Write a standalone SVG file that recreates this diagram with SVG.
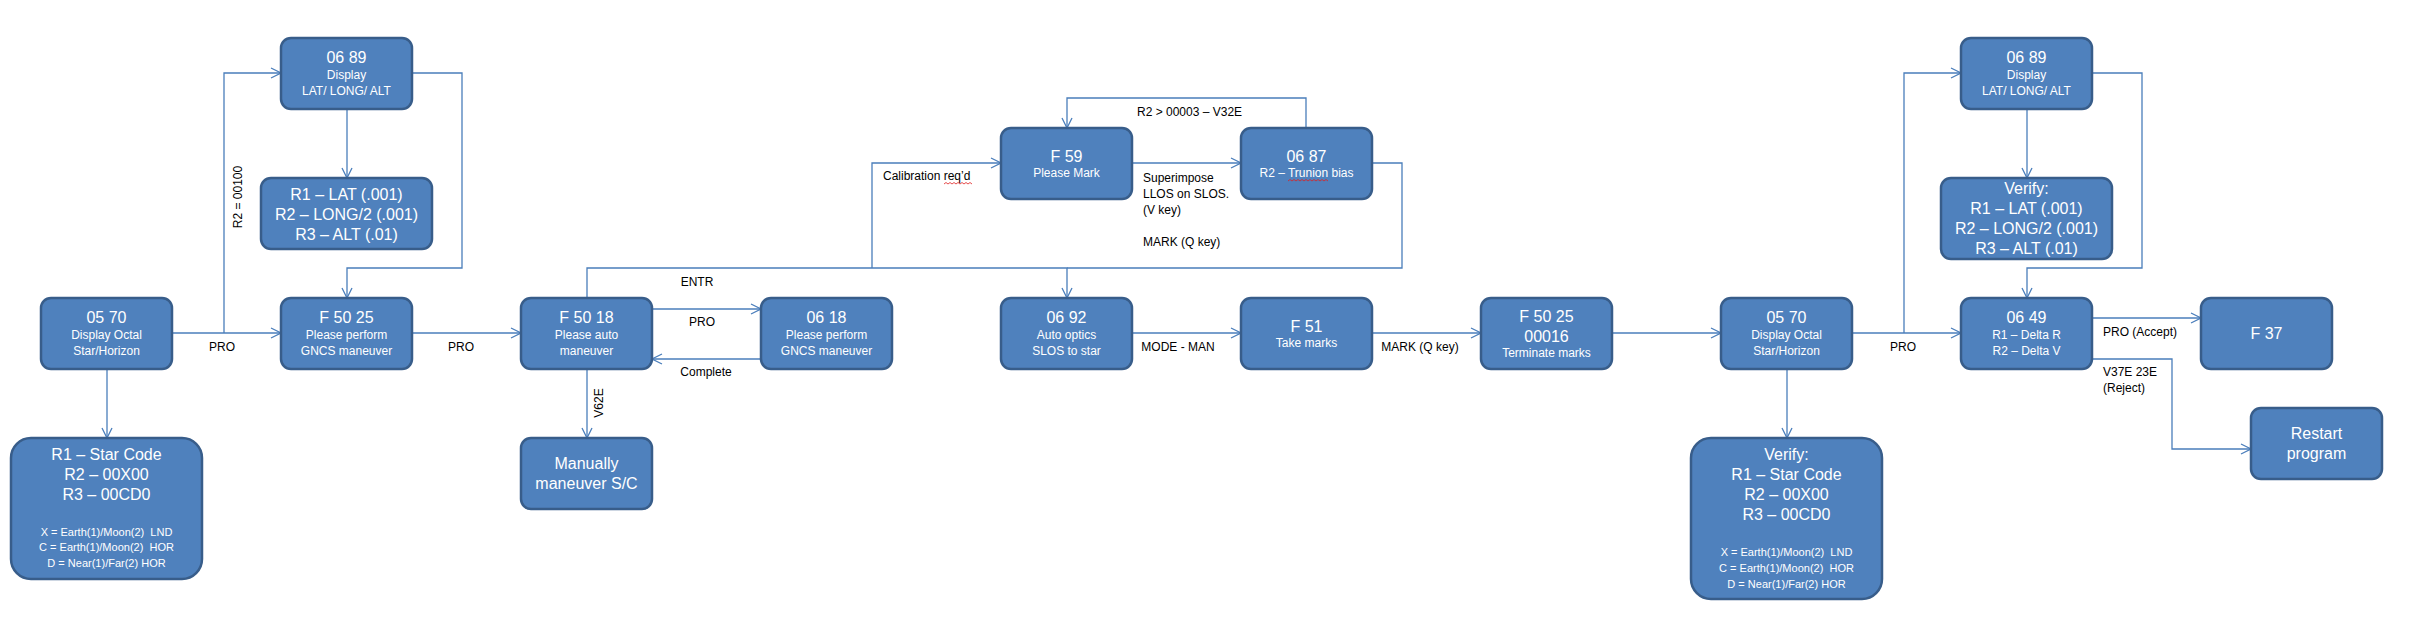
<svg xmlns="http://www.w3.org/2000/svg" width="2436" height="640" viewBox="0 0 2436 640">
<defs>
<style>
.box{fill:#4F81BD;stroke:#385D8A;stroke-width:2.5}
.t{font-family:"Liberation Sans",Arial,sans-serif;fill:#fff;text-anchor:middle}
.h{font-size:16px}
.s{font-size:12px}
.xs{font-size:11px}
.lbl{font-family:"Liberation Sans",Arial,sans-serif;font-size:12px;fill:#000}
.c{fill:none;stroke:#4A7EBB;stroke-width:1.3}
.a{marker-end:url(#arr)}
.sp{fill:none;stroke:#E02020;stroke-width:0.8}
</style>
<marker id="arr" markerUnits="userSpaceOnUse" viewBox="0 0 12 12" refX="11" refY="6" markerWidth="12" markerHeight="12" orient="auto">
<path d="M1,1 L11,6 L1,11" fill="none" stroke="#4A7EBB" stroke-width="1.3"/>
</marker>
</defs>
<rect x="0" y="0" width="2436" height="640" fill="#fff"/>

<g id="connectors">
<path class="c a" d="M172,333 H281"/>
<path class="c a" d="M224,333 V73 H281"/>
<path class="c a" d="M347,109 V178"/>
<path class="c a" d="M412,73 H462 V268 H347 V298"/>
<path class="c a" d="M107,369 V438"/>
<path class="c a" d="M412,333 H521"/>
<path class="c a" d="M652,309 H761"/>
<path class="c a" d="M761,359 H652"/>
<path class="c a" d="M587,369 V438"/>
<path class="c a" d="M587,298 V268 H1067 V298"/>
<path class="c a" d="M872,268 V163 H1001"/>
<path class="c" d="M1372,163 H1402 V268 H1067"/>
<path class="c a" d="M1132,163 H1241"/>
<path class="c a" d="M1306,128 V98 H1067 V128"/>
<path class="c a" d="M1132,333 H1241"/>
<path class="c a" d="M1372,333 H1481"/>
<path class="c a" d="M1612,333 H1721"/>
<path class="c a" d="M1787,369 V438"/>
<path class="c a" d="M1852,333 H1961"/>
<path class="c a" d="M1904,333 V73 H1961"/>
<path class="c a" d="M2027,109 V178"/>
<path class="c a" d="M2092,73 H2142 V268 H2027 V298"/>
<path class="c a" d="M2092,318 H2201"/>
<path class="c a" d="M2092,359 H2172 V449 H2251"/>

<text class="lbl" x="222" y="351" text-anchor="middle">PRO</text>
<text class="lbl" transform="translate(242,197) rotate(-90)" text-anchor="middle">R2 = 00100</text>
<text class="lbl" x="461" y="351" text-anchor="middle">PRO</text>
<text class="lbl" x="702" y="326" text-anchor="middle">PRO</text>
<text class="lbl" x="706" y="376" text-anchor="middle">Complete</text>
<text class="lbl" transform="translate(603,403) rotate(-90)" text-anchor="middle">V62E</text>
<text class="lbl" x="697" y="286" text-anchor="middle">ENTR</text>
<text class="lbl" x="883" y="180">Calibration req’d</text>
<path class="sp" d="M944,184 l2,-1.5 l2,1.5 l2,-1.5 l2,1.5 l2,-1.5 l2,1.5 l2,-1.5 l2,1.5 l2,-1.5 l2,1.5 l2,-1.5 l2,1.5 l2,-1.5 l2,1.5"/>
<text class="lbl" x="1137" y="116">R2 &gt; 00003 – V32E</text>
<text class="lbl" x="1143" y="182">Superimpose</text>
<text class="lbl" x="1143" y="198">LLOS on SLOS.</text>
<text class="lbl" x="1143" y="214">(V key)</text>
<text class="lbl" x="1143" y="246">MARK (Q key)</text>
<text class="lbl" x="1178" y="351" text-anchor="middle">MODE - MAN</text>
<text class="lbl" x="1420" y="351" text-anchor="middle">MARK (Q key)</text>
<text class="lbl" x="1903" y="351" text-anchor="middle">PRO</text>
<text class="lbl" x="2103" y="336">PRO (Accept)</text>
<text class="lbl" x="2103" y="376">V37E 23E</text>
<text class="lbl" x="2103" y="392">(Reject)</text>
</g>

<g id="n0570a">
<rect class="box" x="41" y="298" width="131" height="71" rx="10"/>
<text class="t h" x="106.5" y="323">05 70</text>
<text class="t s" x="106.5" y="339">Display Octal</text>
<text class="t s" x="106.5" y="355">Star/Horizon</text>
</g>
<g id="nStarA">
<rect class="box" x="11" y="438" width="191" height="141" rx="20"/>
<text class="t h" x="106.5" y="460">R1 – Star Code</text>
<text class="t h" x="106.5" y="480">R2 – 00X00</text>
<text class="t h" x="106.5" y="500">R3 – 00CD0</text>
<text class="t xs" x="106.5" y="536" xml:space="preserve">X = Earth(1)/Moon(2)  LND</text>
<text class="t xs" x="106.5" y="551" xml:space="preserve">C = Earth(1)/Moon(2)  HOR</text>
<text class="t xs" x="106.5" y="567">D = Near(1)/Far(2) HOR</text>
</g>
<g id="n0689a">
<rect class="box" x="281" y="38" width="131" height="71" rx="10"/>
<text class="t h" x="346.5" y="63">06 89</text>
<text class="t s" x="346.5" y="79">Display</text>
<text class="t s" x="346.5" y="95">LAT/ LONG/ ALT</text>
</g>
<g id="nLatA">
<rect class="box" x="261" y="178" width="171" height="71" rx="10"/>
<text class="t h" x="346.5" y="200">R1 – LAT (.001)</text>
<text class="t h" x="346.5" y="220">R2 – LONG/2 (.001)</text>
<text class="t h" x="346.5" y="240">R3 – ALT (.01)</text>
</g>
<g id="nF5025a">
<rect class="box" x="281" y="298" width="131" height="71" rx="10"/>
<text class="t h" x="346.5" y="323">F 50 25</text>
<text class="t s" x="346.5" y="339">Please perform</text>
<text class="t s" x="346.5" y="355">GNCS maneuver</text>
</g>
<g id="nF5018">
<rect class="box" x="521" y="298" width="131" height="71" rx="10"/>
<text class="t h" x="586.5" y="323">F 50 18</text>
<text class="t s" x="586.5" y="339">Please auto</text>
<text class="t s" x="586.5" y="355">maneuver</text>
</g>
<g id="n0618">
<rect class="box" x="761" y="298" width="131" height="71" rx="10"/>
<text class="t h" x="826.5" y="323">06 18</text>
<text class="t s" x="826.5" y="339">Please perform</text>
<text class="t s" x="826.5" y="355">GNCS maneuver</text>
</g>
<g id="nManual">
<rect class="box" x="521" y="438" width="131" height="71" rx="10"/>
<text class="t h" x="586.5" y="469">Manually</text>
<text class="t h" x="586.5" y="489">maneuver S/C</text>
</g>
<g id="nF59">
<rect class="box" x="1001" y="128" width="131" height="71" rx="10"/>
<text class="t h" x="1066.5" y="162">F 59</text>
<text class="t s" x="1066.5" y="177">Please Mark</text>
</g>
<g id="n0687">
<rect class="box" x="1241" y="128" width="131" height="71" rx="10"/>
<text class="t h" x="1306.5" y="162">06 87</text>
<text class="t s" x="1306.5" y="177">R2 – Trunion bias</text>
<path class="sp" d="M1288,181 l2,-1.5 l2,1.5 l2,-1.5 l2,1.5 l2,-1.5 l2,1.5 l2,-1.5 l2,1.5 l2,-1.5 l2,1.5 l2,-1.5 l2,1.5 l2,-1.5 l2,1.5 l2,-1.5 l2,1.5 l2,-1.5 l2,1.5 l2,-1.5 l2,1.5"/>
</g>
<g id="n0692">
<rect class="box" x="1001" y="298" width="131" height="71" rx="10"/>
<text class="t h" x="1066.5" y="323">06 92</text>
<text class="t s" x="1066.5" y="339">Auto optics</text>
<text class="t s" x="1066.5" y="355">SLOS to star</text>
</g>
<g id="nF51">
<rect class="box" x="1241" y="298" width="131" height="71" rx="10"/>
<text class="t h" x="1306.5" y="332">F 51</text>
<text class="t s" x="1306.5" y="347">Take marks</text>
</g>
<g id="nF5025b">
<rect class="box" x="1481" y="298" width="131" height="71" rx="10"/>
<text class="t h" x="1546.5" y="322">F 50 25</text>
<text class="t h" x="1546.5" y="342">00016</text>
<text class="t s" x="1546.5" y="357">Terminate marks</text>
</g>
<g id="n0570b">
<rect class="box" x="1721" y="298" width="131" height="71" rx="10"/>
<text class="t h" x="1786.5" y="323">05 70</text>
<text class="t s" x="1786.5" y="339">Display Octal</text>
<text class="t s" x="1786.5" y="355">Star/Horizon</text>
</g>
<g id="nStarB">
<rect class="box" x="1691" y="438" width="191" height="161" rx="20"/>
<text class="t h" x="1786.5" y="460">Verify:</text>
<text class="t h" x="1786.5" y="480">R1 – Star Code</text>
<text class="t h" x="1786.5" y="500">R2 – 00X00</text>
<text class="t h" x="1786.5" y="520">R3 – 00CD0</text>
<text class="t xs" x="1786.5" y="556" xml:space="preserve">X = Earth(1)/Moon(2)  LND</text>
<text class="t xs" x="1786.5" y="572" xml:space="preserve">C = Earth(1)/Moon(2)  HOR</text>
<text class="t xs" x="1786.5" y="588">D = Near(1)/Far(2) HOR</text>
</g>
<g id="n0689b">
<rect class="box" x="1961" y="38" width="131" height="71" rx="10"/>
<text class="t h" x="2026.5" y="63">06 89</text>
<text class="t s" x="2026.5" y="79">Display</text>
<text class="t s" x="2026.5" y="95">LAT/ LONG/ ALT</text>
</g>
<g id="nLatB">
<rect class="box" x="1941" y="178" width="171" height="81" rx="10"/>
<text class="t h" x="2026.5" y="194">Verify:</text>
<text class="t h" x="2026.5" y="214">R1 – LAT (.001)</text>
<text class="t h" x="2026.5" y="234">R2 – LONG/2 (.001)</text>
<text class="t h" x="2026.5" y="254">R3 – ALT (.01)</text>
</g>
<g id="n0649">
<rect class="box" x="1961" y="298" width="131" height="71" rx="10"/>
<text class="t h" x="2026.5" y="323">06 49</text>
<text class="t s" x="2026.5" y="339">R1 – Delta R</text>
<text class="t s" x="2026.5" y="355">R2 – Delta V</text>
</g>
<g id="nF37">
<rect class="box" x="2201" y="298" width="131" height="71" rx="10"/>
<text class="t h" x="2266.5" y="339">F 37</text>
</g>
<g id="nRestart">
<rect class="box" x="2251" y="408" width="131" height="71" rx="10"/>
<text class="t h" x="2316.5" y="439">Restart</text>
<text class="t h" x="2316.5" y="459">program</text>
</g>
</svg>
